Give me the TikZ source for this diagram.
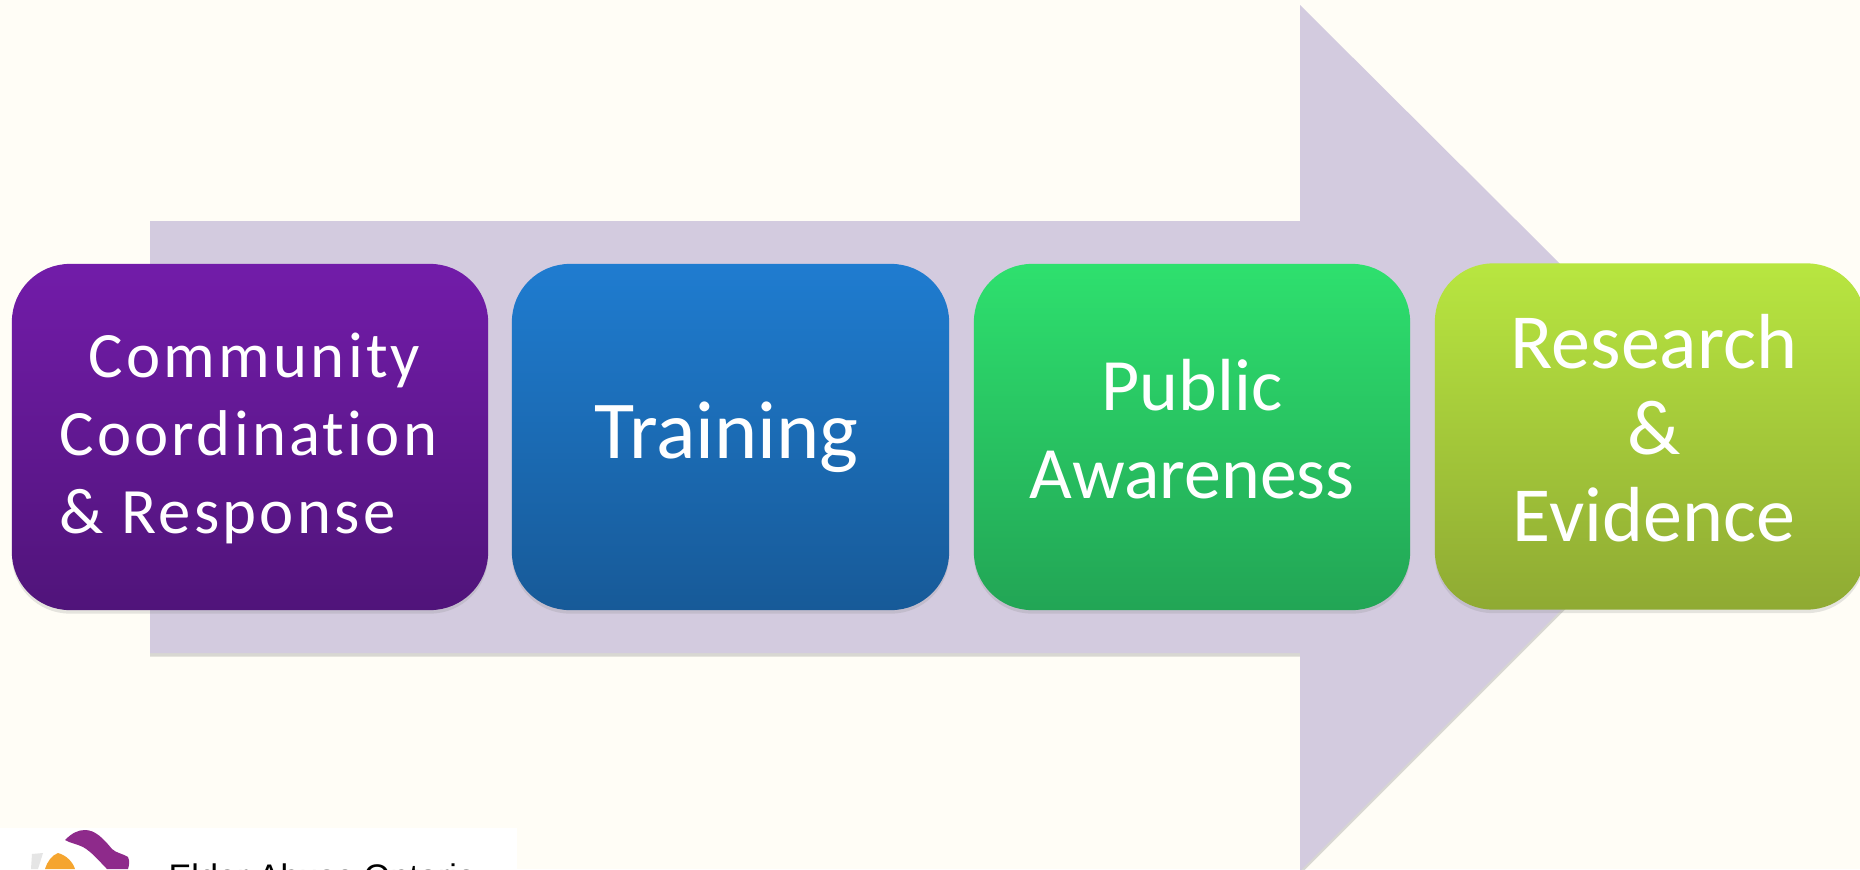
\documentclass[tikz,border=0pt]{standalone}
\usepackage{fontspec}
\setmainfont{Carlito}
\newfontfamily\widefont[LetterSpace=5,Ligatures=NoCommon]{Carlito}
\newfontfamily\logofont{Liberation Sans}
\usetikzlibrary{shadows}
\definecolor{paper}{HTML}{FFFDF6}
\definecolor{arrowfill}{HTML}{D3CBDF}
\definecolor{c1top}{HTML}{721CA9}
\definecolor{c1bot}{HTML}{50147A}
\definecolor{c2top}{HTML}{1F7CD0}
\definecolor{c2bot}{HTML}{175A98}
\definecolor{c3top}{HTML}{2EE06E}
\definecolor{c3bot}{HTML}{22A555}
\definecolor{c4top}{HTML}{B8E640}
\definecolor{c4bot}{HTML}{8FAA33}
\definecolor{logopurple}{HTML}{8E2A8B}
\definecolor{logoorange}{HTML}{F5A52F}
\tikzset{
  block/.style={rounded corners=0.58cm,inner sep=0pt,minimum height=3.46cm,
    drop shadow={shadow xshift=0pt,shadow yshift=-1pt,opacity=0.2}},
  blocktext/.style={inner sep=0pt,text=white,align=center},
}
\begin{document}
\begin{tikzpicture}[x=0.01cm,y=-0.01cm]
      \useasboundingbox (0,0) rectangle (1860,869);%
      \fill[paper] (0,0) rectangle (1860,869);%

      \coordinate (A1) at (150,221);%
      \coordinate (A2) at (1300,221);%
      \coordinate (A3) at (1300,5);%
      \coordinate (A4) at (1734,437);%
      \coordinate (A5) at (1300,871);%
      \coordinate (A6) at (1300,653);%
      \coordinate (A7) at (150,653);%

      \fill[arrowfill,drop shadow={shadow xshift=0pt,shadow yshift=-1pt,opacity=0.3}]
      (A1) -- (A2) -- (A3) -- (A4) -- (A5) -- (A6) -- (A7) -- cycle;%

      \node[block,minimum width=4.76cm,top color=c1top,bottom color=c1bot] (B1) at (250,437) {};%
      \node[block,minimum width=4.37cm,top color=c2top,bottom color=c2bot] (B2) at (730.5,437) {};%
      \node[block,minimum width=4.36cm,top color=c3top,bottom color=c3bot] (B3) at (1192,437) {};%
      \node[block,minimum width=4.3cm,top color=c4top,bottom color=c4bot] (B4) at (1650,436.5) {};%

      \node[blocktext,align=left,font={\fontsize{18.4}{22.2}\widefont}] (T1) at (248.5,438.5)
      {\hspace*{0.45em}Community\\Coordination\\\& Response};%
      \node[blocktext,font={\fontsize{23.4}{28}\selectfont}] (T2) at (726.5,437) {Training};%
      \node[blocktext,font={\fontsize{21}{25}\selectfont}] (T3) at (1192,429.5) {Public\\Awareness};%
      \node[blocktext,font={\fontsize{22.2}{24.5}\selectfont}] (T4) at (1654,428) {Research\\\&\\Evidence};%

      \fill[white] (0,828) rectangle (517,869);%
      \fill[gray!20] (32,854) -- (43,853) -- (38,869) -- (31,869) -- cycle;%
      \fill[logoorange] (58,853) .. controls (52,855) and (47,862) .. (45,869) -- (75,869) .. controls (73,862) and (66,855) .. (58,853) -- cycle;%
      \fill[logopurple] (65,840) .. controls (72,833) and (78,830) .. (85,830) .. controls (95,830) and (103,838) .. (112,849) .. controls (116,853) and (124,854) .. (128,857) .. controls (130,861) and (129,866) .. (128,869) -- (107,869) .. controls (100,862) and (92,852) .. (83,847) .. controls (77,844) and (70,843) .. (65,840) -- cycle;%
      \node[anchor=base west,inner sep=0pt,text=black,font={\fontsize{9.7}{12}\logofont}] (LG) at (168,888)
      {Elder Abuse Ontario};%
\end{tikzpicture}
\end{document}
